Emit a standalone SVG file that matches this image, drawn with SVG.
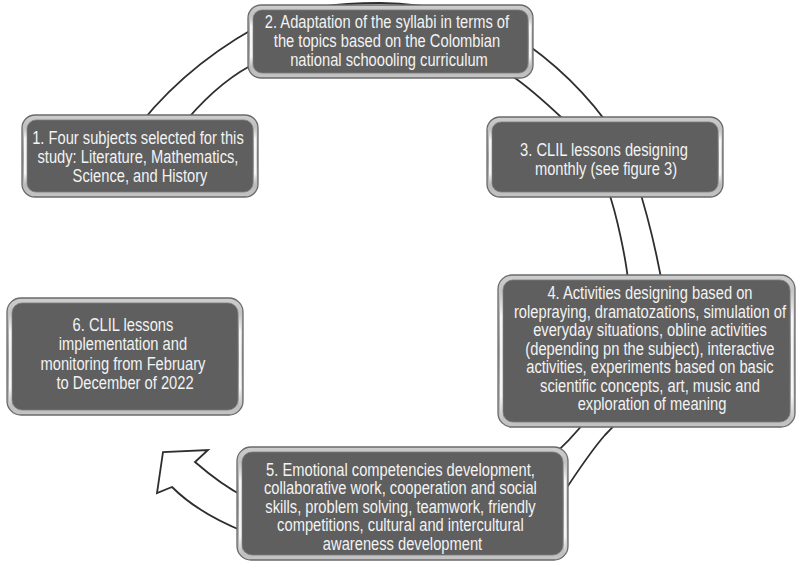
<svg xmlns="http://www.w3.org/2000/svg" width="796" height="564" viewBox="0 0 796 564">
  <defs>
    <style>
      .band { fill: #ffffff; stroke: #2e2e2e; stroke-width: 1.8; stroke-linejoin: miter; }
      .frame { fill: url(#bevel); stroke: #6a6a6a; stroke-width: 1.3; }
      .face { fill: #5f5f5f; stroke: #7c7c7c; stroke-width: 0.8; }
      .sheen { fill: url(#sheenGrad); }
      .label { font-family: "Liberation Sans", Arial, sans-serif; font-size: 17.5px; fill: #f3f3f3; text-anchor: middle; }
    </style>
    <linearGradient id="bevel" x1="0" y1="0" x2="0" y2="1">
      <stop offset="0" stop-color="#cdcdcd"/>
      <stop offset="0.5" stop-color="#a2a2a2"/>
      <stop offset="1" stop-color="#c4c4c4"/>
    </linearGradient>
    <linearGradient id="sheenGrad" x1="0" y1="0" x2="0" y2="1">
      <stop offset="0" stop-color="#ffffff" stop-opacity="0"/>
      <stop offset="0.2" stop-color="#ffffff" stop-opacity="0.9"/>
      <stop offset="0.8" stop-color="#ffffff" stop-opacity="0.9"/>
      <stop offset="1" stop-color="#ffffff" stop-opacity="0"/>
    </linearGradient>
  </defs>

  <rect width="796" height="564" fill="#ffffff"/>

  <!-- cycle band with arrowhead, running clockwise behind the steps -->
  <g id="connectors">
    <path class="band" d="M 128,140
      C 160,95 205,55 260,25
      C 300,6 340,3 380,3
      C 430,3 490,18 528,45
      C 560,68 595,100 625,150
      C 640,185 655,240 665,300
      C 668,360 640,400 605,435
      C 590,452 575,475 560,498
      C 470,548 320,552 245,532
      C 215,520 190,505 172,487
      L 157,493 L 163,452 L 208,450 L 195,462
      C 210,475 225,487 245,497
      C 330,520 470,505 545,462
      C 560,450 575,435 590,415
      C 625,370 632,320 628,280
      C 626,260 617,215 608,190
      C 595,160 580,135 562,118
      C 545,102 530,88 512,76
      C 450,40 320,40 250,66
      C 228,78 205,97 180,128 Z"/>
  </g>

  <g id="step1" class="node">
    <rect class="frame" x="22" y="115" width="236" height="82" rx="13"/>
    <rect class="face" x="27" y="120" width="226" height="72" rx="9"/>
    <rect class="sheen" x="24" y="127" width="2.6" height="58"/>
    <rect class="sheen" x="254" y="127" width="2.6" height="58"/>
    <text class="label" transform="translate(140 0) scale(0.84 1)">
      <tspan x="0" y="144">1. Four subjects selected for this</tspan>
      <tspan x="0" y="163">study: Literature, Mathematics,</tspan>
      <tspan x="0" y="182">Science, and History</tspan>
    </text>
  </g>

  <g id="step2" class="node">
    <rect class="frame" x="248" y="5" width="285" height="73" rx="13"/>
    <rect class="face" x="253" y="10" width="275" height="63" rx="9"/>
    <rect class="sheen" x="250" y="16" width="2.6" height="51"/>
    <rect class="sheen" x="529" y="16" width="2.6" height="51"/>
    <text class="label" transform="translate(389 0) scale(0.84 1)">
      <tspan x="0" y="28">2. Adaptation of the syllabi in terms of</tspan>
      <tspan x="0" y="47.5">the topics based on the Colombian</tspan>
      <tspan x="0" y="66.5">national schoooling curriculum</tspan>
    </text>
  </g>

  <g id="step3" class="node">
    <rect class="frame" x="487" y="117" width="236" height="80" rx="13"/>
    <rect class="face" x="492" y="122" width="226" height="70" rx="9"/>
    <rect class="sheen" x="489" y="129" width="2.6" height="56"/>
    <rect class="sheen" x="719" y="129" width="2.6" height="56"/>
    <text class="label" transform="translate(606 0) scale(0.84 1)">
      <tspan x="0" y="156">3. CLIL lessons designing</tspan>
      <tspan x="0" y="175">monthly (see figure 3)</tspan>
    </text>
  </g>

  <g id="step4" class="node">
    <rect class="frame" x="498" y="275" width="297" height="152" rx="14"/>
    <rect class="face" x="503" y="280" width="287" height="142" rx="10"/>
    <rect class="sheen" x="500" y="290" width="2.6" height="132"/>
    <rect class="sheen" x="791" y="290" width="2.6" height="132"/>
    <text class="label" transform="translate(652 0) scale(0.84 1)">
      <tspan x="0" y="299.5">4. Activities designing based on</tspan>
      <tspan x="0" y="318">rolepraying, dramatozations, simulation of</tspan>
      <tspan x="0" y="336.5">everyday situations, obline activities</tspan>
      <tspan x="0" y="355">(depending pn the subject), interactive</tspan>
      <tspan x="0" y="373.5">activities, experiments based on basic</tspan>
      <tspan x="0" y="392">scientific concepts, art, music and</tspan>
      <tspan x="0" y="410.5">exploration of meaning</tspan>
    </text>
  </g>

  <g id="step5" class="node">
    <rect class="frame" x="237" y="447" width="331" height="113" rx="14"/>
    <rect class="face" x="242" y="452" width="321" height="103" rx="10"/>
    <rect class="sheen" x="239" y="462" width="2.6" height="93"/>
    <rect class="sheen" x="564" y="462" width="2.6" height="93"/>
    <text class="label" transform="translate(402.5 0) scale(0.84 1)">
      <tspan x="0" y="476">5. Emotional competencies development,</tspan>
      <tspan x="0" y="494.5">collaborative work, cooperation and social</tspan>
      <tspan x="0" y="513">skills, problem solving, teamwork, friendly</tspan>
      <tspan x="0" y="531.5">competitions, cultural and intercultural</tspan>
      <tspan x="0" y="550">awareness development</tspan>
    </text>
  </g>

  <g id="step6" class="node">
    <rect class="frame" x="7" y="298" width="236" height="117" rx="14"/>
    <rect class="face" x="12" y="303" width="226" height="107" rx="10"/>
    <rect class="sheen" x="9" y="312" width="2.6" height="95"/>
    <rect class="sheen" x="239" y="312" width="2.6" height="95"/>
    <text class="label" transform="translate(125 0) scale(0.84 1)">
      <tspan x="0" y="331">6. CLIL lessons</tspan>
      <tspan x="0" y="350.5">implementation and</tspan>
      <tspan x="0" y="370">monitoring from February</tspan>
      <tspan x="0" y="389.5">to December of 2022</tspan>
    </text>
  </g>
</svg>
